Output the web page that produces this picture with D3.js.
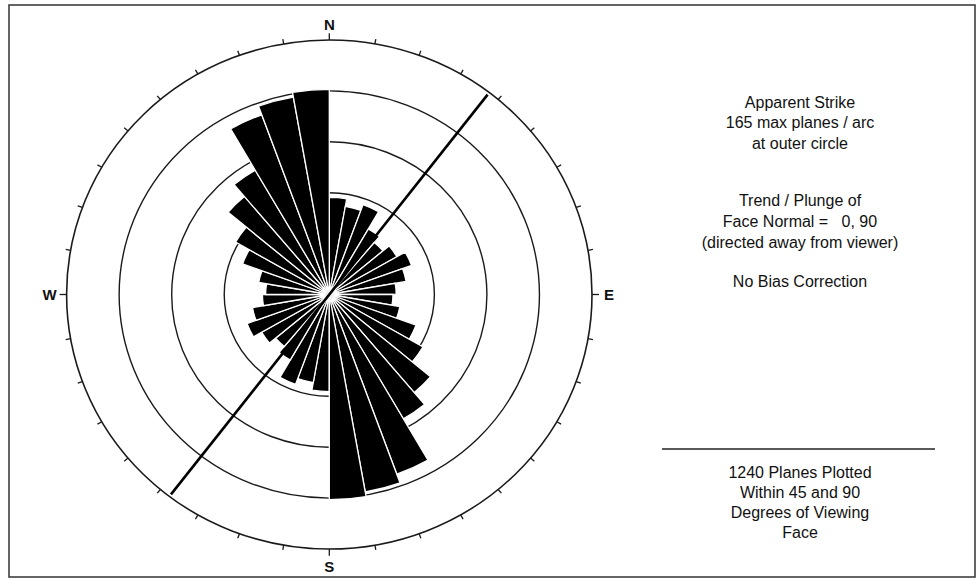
<!DOCTYPE html>
<html>
<head>
<meta charset="utf-8">
<script src="https://cdn.jsdelivr.net/npm/d3@7"></script>
<style>
  html, body { margin: 0; padding: 0; background: #ffffff; }
  svg { display: block; }
  text { font-family: "Liberation Sans", Arial, sans-serif; fill: #111; }
</style>
</head>
<body>
<svg id="chart" width="977" height="581"></svg>
<script>
// ---- data ----
// apparent strike bins (degrees azimuth, 10° wide); bidirectional, drawn at θ and θ+180
const binStarts = [0, 10, 20, 30, 40, 50, 60, 70, 80, 90, 100, 110, 120, 130, 140, 150, 160, 170];
const planeCounts = [63, 58, 62, 49, 44, 49, 55, 49, 42, 40, 45, 58, 68, 83, 93, 124, 130, 133];
const maxCount = 165;                       // planes / arc at outer circle
const ringCounts = [33, 66, 99, 132];        // 20%, 40%, 60%, 80% of the outer circle
const faceTrend = 37.5;                      // trend of the diagonal line
const compassLabels = [
  { label: "N", az: 0 }, { label: "E", az: 90 }, { label: "S", az: 180 }, { label: "W", az: 270 }
];
const infoBlock1 = ["Apparent Strike", "165 max planes / arc", "at outer circle"];
const infoBlock2 = ["Trend / Plunge of", "Face Normal =   0, 90", "(directed away from viewer)"];
const infoBlock3 = ["No Bias Correction"];
const infoBlock4 = ["1240 Planes Plotted", "Within 45 and 90", "Degrees of Viewing", "Face"];

// ---- layout ----
const svg = d3.select("#chart");
const cx = 329.3, cy = 294.5, R = 262.7, ky = 254.5 / 262.7;
const r = d3.scaleLinear().domain([0, maxCount]).range([0, R]);
const rad = d => d * Math.PI / 180;

// frame
svg.append("rect").attr("x", 9).attr("y", 5).attr("width", 966).attr("height", 572)
  .attr("fill", "#fff").attr("stroke", "#333").attr("stroke-width", 1.5);

const g = svg.append("g").attr("transform", `translate(${cx},${cy}) scale(1,${ky})`);

// rings (beneath bars)
g.selectAll("circle.ring").data(ringCounts).join("circle")
  .attr("class", "ring").attr("r", d => r(d))
  .attr("fill", "none").attr("stroke", "#1a1a1a").attr("stroke-width", 1.4)
  .attr("vector-effect", "non-scaling-stroke");

// outer circle
g.append("circle").attr("r", R).attr("fill", "none")
  .attr("stroke", "#1a1a1a").attr("stroke-width", 1.6)
  .attr("vector-effect", "non-scaling-stroke");

// ticks every 10°
const tickAz = d3.range(0, 360, 10);
g.selectAll("line.tick").data(tickAz).join("line")
  .attr("class", "tick")
  .attr("x1", d => R * Math.sin(rad(d))).attr("y1", d => -R * Math.cos(rad(d)))
  .attr("x2", d => (R + (d % 90 === 0 ? 7 : 5)) * Math.sin(rad(d)))
  .attr("y2", d => -(R + (d % 90 === 0 ? 7 : 5)) * Math.cos(rad(d)))
  .attr("stroke", "#1a1a1a").attr("stroke-width", 1.3)
  .attr("vector-effect", "non-scaling-stroke");

// petals
const petals = [];
binStarts.forEach((b, i) => {
  petals.push({ start: b, count: planeCounts[i] });
  petals.push({ start: b + 180, count: planeCounts[i] });
});
const arc = d3.arc().innerRadius(0)
  .outerRadius(d => r(d.count))
  .startAngle(d => rad(d.start))
  .endAngle(d => rad(d.start + 10));
g.selectAll("path.petal").data(petals).join("path")
  .attr("class", "petal").attr("d", arc)
  .attr("fill", "#000").attr("stroke", "#fff").attr("stroke-width", 1.3)
  .attr("stroke-linejoin", "miter")
  .attr("vector-effect", "non-scaling-stroke");

// centre spot
g.append("circle").attr("r", 5).attr("fill", "#f2f2f2");

// diagonal face line
const L = R * 0.99;
g.append("line")
  .attr("x1", -L * Math.sin(rad(faceTrend))).attr("y1", L * Math.cos(rad(faceTrend)))
  .attr("x2", L * Math.sin(rad(faceTrend))).attr("y2", -L * Math.cos(rad(faceTrend)))
  .attr("stroke", "#000").attr("stroke-width", 2.6)
  .attr("vector-effect", "non-scaling-stroke");

// compass labels
const lblOff = { N: [0, -16], S: [0, 17], E: [17, 0], W: [-17, 0] };
svg.selectAll("text.compass").data(compassLabels).join("text")
  .attr("class", "compass")
  .attr("x", d => cx + (R) * Math.sin(rad(d.az)) + lblOff[d.label][0])
  .attr("y", d => cy - (R * ky) * Math.cos(rad(d.az)) + lblOff[d.label][1])
  .attr("text-anchor", "middle").attr("dominant-baseline", "central")
  .attr("font-weight", "bold").attr("font-size", 15)
  .text(d => d.label);

// info text
const tx = 800;
function block(lines, y0, dy) {
  svg.append("g").selectAll("text").data(lines).join("text")
    .attr("x", tx).attr("y", (d, i) => y0 + i * dy)
    .attr("text-anchor", "middle").attr("dominant-baseline", "central")
    .attr("font-size", 16).attr("xml:space", "preserve")
    .style("white-space", "pre")
    .text(d => d);
}
block(infoBlock1, 102, 20.5);
block(infoBlock2, 200.5, 20.8);
block(infoBlock3, 281, 20);
svg.append("line").attr("x1", 662).attr("x2", 935).attr("y1", 449).attr("y2", 449)
  .attr("stroke", "#222").attr("stroke-width", 1.5);
block(infoBlock4, 472, 20);
</script>
</body>
</html>
